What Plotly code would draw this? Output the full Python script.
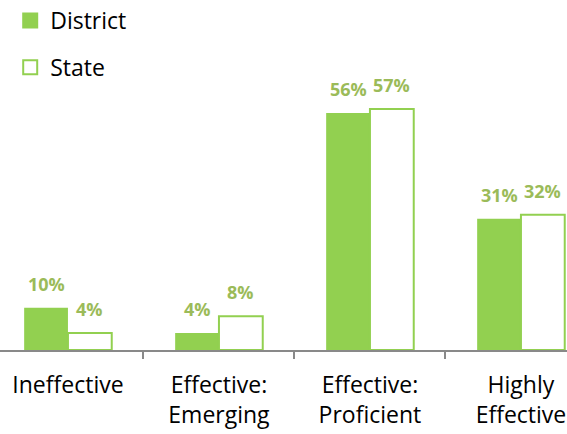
import plotly.graph_objects as go

categories = ["Ineffective", "Effective:<br>Emerging", "Effective:<br>Proficient", "Highly<br>Effective"]
district = [10, 4, 56, 31]
state = [4, 8, 57, 32]
series_names = ["District", "State"]

GREEN = "#92D050"
LABEL = "#9BBB59"
FONT = "Open Sans"
BARGAP = 0.42

fig = go.Figure()
fig.add_trace(go.Bar(
    x=categories, y=district, name=series_names[0], showlegend=False,
    marker=dict(color=GREEN, line=dict(color=GREEN, width=0)),
))
fig.add_trace(go.Bar(
    x=categories, y=state, name=series_names[1], showlegend=False,
    marker=dict(color="white", line=dict(color=GREEN, width=2)),
))
# legend-only entries with larger square swatches
fig.add_trace(go.Scatter(
    x=[None], y=[None], mode="markers", name=series_names[0], legendgroup="d",
    marker=dict(symbol="square", size=16, color=GREEN, line=dict(width=0)),
))
fig.add_trace(go.Scatter(
    x=[None], y=[None], mode="markers", name=series_names[1], legendgroup="s",
    marker=dict(symbol="square", size=14, color="white", line=dict(color=GREEN, width=2)),
))

half = (1 - BARGAP) / 4
for i, (d, s) in enumerate(zip(district, state)):
    for off, v in ((-half, d), (half, s)):
        fig.add_annotation(
            x=i + off, y=v, xref="x", yref="y",
            text=f"<b>{v}%</b>", showarrow=False,
            yanchor="bottom", xanchor="center", yshift=10,
            font=dict(family=FONT, size=18, color=LABEL),
        )

fig.update_layout(
    width=567, height=434,
    margin=dict(l=0, r=0, t=0, b=84, autoexpand=False),
    paper_bgcolor="white", plot_bgcolor="white",
    barmode="group", bargap=BARGAP, bargroupgap=0,
    font=dict(family=FONT, size=23, color="black"),
    showlegend=True,
    legend=dict(
        x=0.018, y=1.003, xanchor="left", yanchor="top",
        orientation="v", tracegroupgap=14, itemsizing="trace",
        font=dict(family=FONT, size=23, color="black"),
        bgcolor="rgba(0,0,0,0)",
    ),
    xaxis=dict(
        range=[-0.450, 3.305], automargin=False,
        showline=True, linecolor="#898989", linewidth=1.5,
        ticks="outside", tickson="boundaries", ticklen=7, tickcolor="#898989", tickwidth=1.5,
        showgrid=False, zeroline=False,
        tickfont=dict(family=FONT, size=23, color="black"),
        ticklabelstandoff=14,
    ),
    yaxis=dict(
        range=[0, 350 / 4.23], automargin=False,
        visible=False, showgrid=False, zeroline=False,
    ),
)

fig.write_html(
    "out.html",
    config={"displayModeBar": False},
    post_script="document.body.style.margin='0';document.body.style.overflow='hidden';",
)
